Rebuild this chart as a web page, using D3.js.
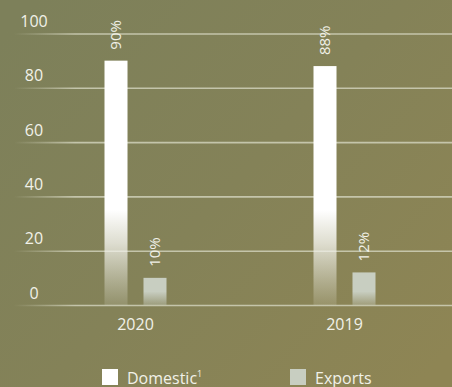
<!DOCTYPE html>
<html>
<head>
<meta charset="utf-8">
<script src="https://cdn.jsdelivr.net/npm/d3@7"></script>
<style>
  html, body { margin: 0; padding: 0; background: #84825a; }
  svg { display: block; }
  text { font-family: "Open Sans", "Noto Sans", sans-serif; font-weight: 400; fill: #f1f1e8; }
</style>
</head>
<body>
<svg id="chart" width="452" height="387"></svg>
<script>
// Sales split by destination, share of volume (%)
const years = ["2020", "2019"];
const seriesNames = ["Domestic", "Exports"];
const domesticValues = [90, 88];
const exportValues = [10, 12];
const yTicks = [0, 20, 40, 60, 80, 100];

const W = 452, H = 387;
const svg = d3.select("#chart");
const defs = svg.append("defs");

// Background wash: olive on the left, warmer tan towards the right
const bg = defs.append("linearGradient").attr("id", "bg")
  .attr("x1", 0).attr("y1", 0.1).attr("x2", 1).attr("y2", 0.9);
bg.append("stop").attr("offset", 0).attr("stop-color", "#7d805a");
bg.append("stop").attr("offset", 0.5).attr("stop-color", "#848258");
bg.append("stop").attr("offset", 1).attr("stop-color", "#8e8554");
svg.append("rect").attr("width", W).attr("height", H).attr("fill", "url(#bg)");

const y = d3.scaleLinear().domain([0, 100]).range([305, 33.5]);
const x0 = d3.scaleBand().domain(years).range([31, 449]);
const half = 31;
const x1 = d3.scaleBand().domain(seriesNames)
  .range([x0.bandwidth() / 2 - half, x0.bandwidth() / 2 + half])
  .paddingInner(0.41);

// Gridlines fade in from the left edge
const gridGrad = defs.append("linearGradient").attr("id", "gridGrad")
  .attr("gradientUnits", "userSpaceOnUse")
  .attr("x1", 14).attr("y1", 0).attr("x2", 75).attr("y2", 0);
gridGrad.append("stop").attr("offset", 0).attr("stop-color", "#d4d5bf").attr("stop-opacity", 0);
gridGrad.append("stop").attr("offset", 1).attr("stop-color", "#d4d5bf").attr("stop-opacity", 0.8);

const yAxis = d3.axisLeft(y).tickValues(yTicks).tickSize(0).tickPadding(0);
const gY = svg.append("g").call(yAxis);
gY.select(".domain").remove();
gY.selectAll(".tick line").remove();
gY.selectAll(".tick").append("line")
  .attr("x1", 14).attr("x2", W).attr("y1", 0).attr("y2", 0)
  .attr("stroke", "url(#gridGrad)").attr("stroke-width", 1.6);
gY.selectAll(".tick text")
  .attr("x", 34).attr("y", -7).attr("dy", 0)
  .attr("text-anchor", "middle")
  .style("font-size", "16px").style("fill", "#f1f1e8");

// Bar fills: solid at the top, fading into the background near the baseline
const domGrad = defs.append("linearGradient").attr("id", "domGrad")
  .attr("gradientUnits", "userSpaceOnUse")
  .attr("x1", 0).attr("x2", 0).attr("y1", y(35)).attr("y2", y(0));
domGrad.append("stop").attr("offset", 0).attr("stop-color", "#ffffff").attr("stop-opacity", 1);
domGrad.append("stop").attr("offset", 0.35).attr("stop-color", "#f4f4ee").attr("stop-opacity", 0.8);
domGrad.append("stop").attr("offset", 1).attr("stop-color", "#e8e8dc").attr("stop-opacity", 0.15);

const expGrad = defs.append("linearGradient").attr("id", "expGrad")
  .attr("gradientUnits", "userSpaceOnUse")
  .attr("x1", 0).attr("x2", 0).attr("y1", y(5)).attr("y2", y(0));
expGrad.append("stop").attr("offset", 0).attr("stop-color", "#c8cec1").attr("stop-opacity", 1);
expGrad.append("stop").attr("offset", 1).attr("stop-color", "#c8cec1").attr("stop-opacity", 0.35);

const fills = { Domestic: "url(#domGrad)", Exports: "url(#expGrad)" };

const rows = years.map((yr, i) => ({
  year: yr,
  values: [
    { key: "Domestic", value: domesticValues[i] },
    { key: "Exports", value: exportValues[i] }
  ]
}));

const groups = svg.append("g").selectAll("g").data(rows).join("g")
  .attr("transform", d => `translate(${x0(d.year)},0)`);

groups.selectAll("rect").data(d => d.values).join("rect")
  .attr("x", d => x1(d.key))
  .attr("width", x1.bandwidth())
  .attr("y", d => y(d.value))
  .attr("height", d => y(0) - y(d.value))
  .attr("fill", d => fills[d.key]);

// Value labels, rotated, sitting above each bar
groups.selectAll("text.val").data(d => d.values).join("text")
  .attr("class", "val")
  .attr("transform", d => `translate(${x1(d.key) + x1.bandwidth() / 2 + 5},${y(d.value) - 11}) rotate(-90)`)
  .attr("text-anchor", "start")
  .style("font-size", "15px")
  .text(d => d.value + "%");

// Year labels under the baseline
const xAxis = d3.axisBottom(x0).tickSize(0).tickPadding(0);
const gX = svg.append("g").attr("transform", `translate(0,${y(0)})`).call(xAxis);
gX.select(".domain").remove();
gX.selectAll(".tick text")
  .attr("x", 0).attr("y", 25).attr("dy", 0)
  .style("font-size", "16px").style("fill", "#f1f1e8");

// Legend
const legendItems = [
  { key: "Domestic", color: "#ffffff", x: 102, note: "1" },
  { key: "Exports", color: "#c8cec1", x: 290, note: "" }
];
const legend = svg.append("g").selectAll("g").data(legendItems).join("g")
  .attr("transform", d => `translate(${d.x},369)`);
legend.append("rect").attr("width", 16).attr("height", 16).attr("fill", d => d.color);
const lt = legend.append("text").attr("x", 25).attr("y", 15).style("font-size", "16px");
lt.append("tspan").text(d => d.key);
lt.append("tspan").attr("dy", -7).style("font-size", "9px").text(d => d.note);
</script>
</body>
</html>
